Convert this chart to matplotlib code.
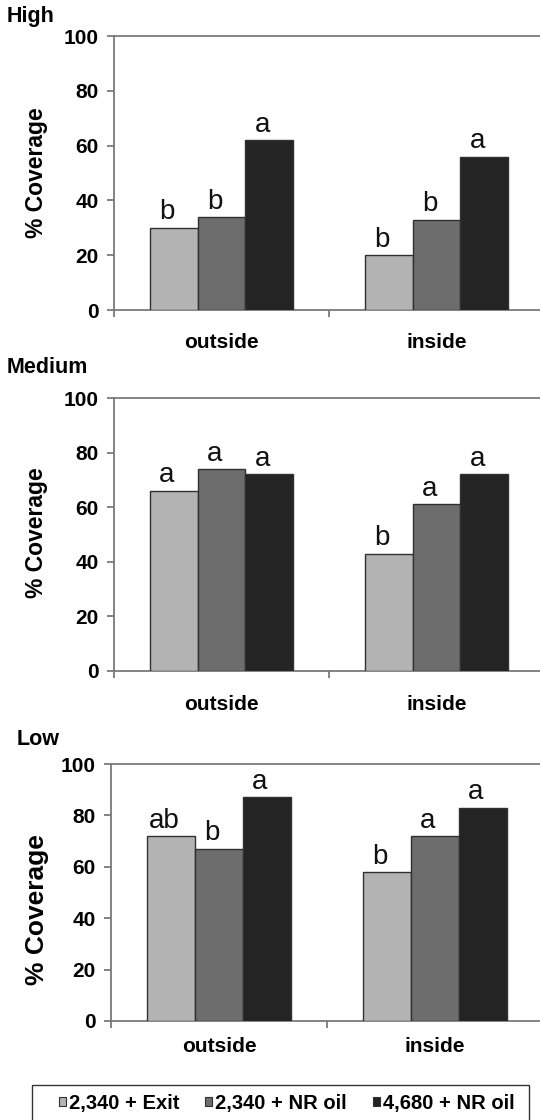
import matplotlib.pyplot as plt
from matplotlib.patches import Patch, Rectangle
import numpy as np

plt.rcParams['font.family'] = ['Liberation Sans', 'DejaVu Sans']

# ---------------------------------------------------------------------
# data
# ---------------------------------------------------------------------
locations = ["outside", "inside"]
treatments = ["2,340 + Exit", "2,340 + NR oil", "4,680 + NR oil"]
panels = ["High", "Medium", "Low"]

high_values = [[30, 34, 62], [20, 33, 56]]
medium_values = [[66, 74, 72], [43, 61, 72]]
low_values = [[72, 67, 87], [58, 72, 83]]

high_letters = [["b", "b", "a"], ["b", "b", "a"]]
medium_letters = [["a", "a", "a"], ["b", "a", "a"]]
low_letters = [["ab", "b", "a"], ["b", "a", "a"]]

yticks = [0, 20, 40, 60, 80, 100]

# ---------------------------------------------------------------------
# style / layout
# ---------------------------------------------------------------------
W, H = 540, 1120
bar_colors = ["#b3b3b3", "#6d6d6d", "#242424"]
edge_color = "#303030"
spine_color = "#7a7a7a"

# (left, right, top, bottom) in pixels, title pos, label offset, ylabel
layout = {
    "High":   dict(box=(114, 544, 36, 310), title=(7, 22), cat_off=38, ylab=(37, 173, 16.5)),
    "Medium": dict(box=(114, 544, 398, 671), title=(7, 373), cat_off=39, ylab=(37, 533, 16.5)),
    "Low":    dict(box=(111, 543, 764, 1021), title=(17, 745), cat_off=31, ylab=(37, 910, 19)),
}
values = {"High": high_values, "Medium": medium_values, "Low": low_values}
letters = {"High": high_letters, "Medium": medium_letters, "Low": low_letters}

fig = plt.figure(figsize=(W / 100, H / 100), dpi=100)
px2pt = 72 / 100

bw = 0.221
offsets = [-bw, 0, bw]

for name in panels:
    lay = layout[name]
    l, r, t, b = lay["box"]
    ax = fig.add_axes([l / W, 1 - b / H, (r - l) / W, (b - t) / H])
    ax.set_xlim(0, 2)
    ax.set_ylim(0, 100)

    vals = values[name]
    labs = letters[name]
    for j in range(3):
        xs = [i + 0.5 + offsets[j] for i in range(len(locations))]
        hs = [vals[i][j] for i in range(len(locations))]
        ax.bar(xs, hs, width=bw, color=bar_colors[j], edgecolor=edge_color,
               linewidth=1.0, zorder=3)
        for x, h, s in zip(xs, hs, [labs[i][j] for i in range(len(locations))]):
            ax.annotate(s, (x, h), xytext=(-5, 6), textcoords="offset points",
                        ha="center", va="baseline", fontsize=20, color="#111111")

    ax.spines["right"].set_visible(False)
    for side in ["left", "top", "bottom"]:
        ax.spines[side].set_color(spine_color)
        ax.spines[side].set_linewidth(1.3)

    ax.set_yticks(yticks)
    ax.set_yticklabels([str(v) for v in yticks], fontsize=15, fontweight="bold")
    ax.tick_params(axis="y", direction="out", length=5, width=1.3, color=spine_color, pad=6)
    ax.set_xticks([0, 1, 2])
    ax.set_xticklabels([])
    ax.tick_params(axis="x", direction="out", length=5, width=1.3, color=spine_color)

    for i, loc in enumerate(locations):
        ax.annotate(loc, (i + 0.5, 0), xycoords=("data", "axes fraction"),
                    xytext=(0, -lay["cat_off"] * px2pt), textcoords="offset points",
                    ha="center", va="baseline", fontsize=15, fontweight="bold")

    tx, ty = lay["title"]
    fig.text(tx / W, 1 - ty / H, name, ha="left", va="baseline",
             fontsize=15.5, fontweight="bold")

    yx, yy, ys = lay["ylab"]
    fig.text(yx / W, 1 - yy / H, "% Coverage", rotation=90, ha="center",
             va="center", fontsize=ys, fontweight="bold")

# legend
handles = [Patch(facecolor=c, edgecolor=edge_color, linewidth=0.8) for c in bar_colors]
fig.legend(handles, treatments, loc="center left",
           bbox_to_anchor=(59 / W, 1 - 1103 / H), ncol=3, frameon=False,
           borderpad=0, borderaxespad=0, handlelength=0.34, handleheight=0.34,
           handletextpad=0.15, columnspacing=1.3,
           prop={"size": 14.5, "weight": "bold"})
fig.patches.append(Rectangle((32 / W, -0.01), (529 - 32) / W, 0.01 + 1 - 1085 / H,
                             transform=fig.transFigure, fill=False,
                             edgecolor="#333333", linewidth=1.0))

fig.savefig("out.png", dpi=100)
